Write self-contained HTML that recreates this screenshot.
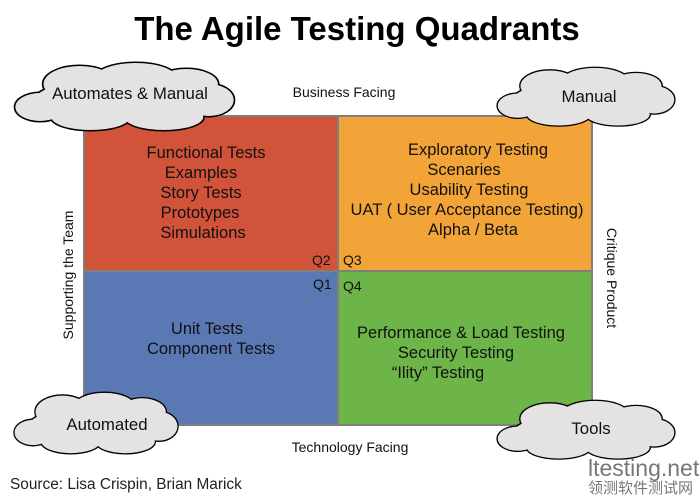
<!DOCTYPE html>
<html><head><meta charset="utf-8"><style>
body{margin:0;width:700px;height:500px;background:#fff;overflow:hidden;font-family:"Liberation Sans",sans-serif}
svg{position:absolute;left:0;top:0}
</style></head><body>
<svg width="700" height="500" viewBox="0 0 700 500" font-family="Liberation Sans, sans-serif">
<defs>
<g id="cs">
<ellipse cx="100" cy="38" rx="80" ry="22"/><ellipse cx="25" cy="45" rx="22" ry="14"/><ellipse cx="175" cy="38" rx="22" ry="16"/>
<ellipse cx="60" cy="22" rx="32" ry="18"/><ellipse cx="110" cy="16" rx="36" ry="15"/><ellipse cx="155" cy="22" rx="28" ry="15"/>
<ellipse cx="70" cy="55" rx="35" ry="13"/><ellipse cx="135" cy="55" rx="35" ry="13"/>
</g>
<g id="cloud">
<use href="#cs" fill="#000" stroke="#000" stroke-width="3" vector-effect="non-scaling-stroke"/>
<use href="#cs" fill="#e4e2e2"/>
</g>
</defs>
<text x="357" y="40" font-size="33" font-weight="bold" text-anchor="middle">The Agile Testing Quadrants</text>
<rect x="83" y="115" width="510" height="311" fill="#7f7f7f"/>
<rect x="85" y="117" width="252" height="153" fill="#d0533a"/>
<rect x="339" y="117" width="252" height="153" fill="#f2a438"/>
<rect x="85" y="272" width="252" height="152" fill="#5a78b4"/>
<rect x="339" y="272" width="252" height="152" fill="#6db548"/>
<g font-size="16.5" text-anchor="middle" fill="#111">
<text x="206" y="158">Functional Tests</text><text x="201" y="178">Examples</text><text x="201" y="198">Story Tests</text><text x="200" y="218">Prototypes</text><text x="203" y="238">Simulations</text>
<text x="478" y="155">Exploratory Testing</text><text x="464" y="175">Scenaries</text><text x="469" y="195">Usability Testing</text><text x="467" y="215">UAT ( User Acceptance Testing)</text><text x="473" y="235">Alpha / Beta</text>
<text x="207" y="334">Unit Tests</text><text x="211" y="354">Component Tests</text>
<text x="461" y="338">Performance &amp; Load Testing</text><text x="456" y="358">Security Testing</text><text x="438" y="378">“Ility” Testing</text>
</g>
<g font-size="14" fill="#111">
<text x="312" y="265">Q2</text><text x="343" y="265">Q3</text><text x="313" y="289">Q1</text><text x="343" y="291">Q4</text>
<text x="344" y="97" text-anchor="middle">Business Facing</text>
<text x="350" y="452" text-anchor="middle">Technology Facing</text>
<text transform="translate(73,275) rotate(-90)" text-anchor="middle">Supporting the Team</text>
<text transform="translate(607,278) rotate(90)" text-anchor="middle">Critique Product</text>
</g>
<use href="#cloud" transform="translate(12,62) scale(1.125,1.0)"/>
<use href="#cloud" transform="translate(495,67) scale(0.91,0.86)"/>
<use href="#cloud" transform="translate(12,392) scale(0.84,0.9)"/>
<use href="#cloud" transform="translate(495,400) scale(0.91,0.86)"/>
<g font-size="16.8" text-anchor="middle" fill="#111">
<text x="130" y="99">Automates &amp; Manual</text>
<text x="589" y="102">Manual</text>
<text x="107" y="430">Automated</text>
<text x="591" y="434">Tools</text>
</g>
<text x="10" y="489" font-size="15.4" fill="#222">Source: Lisa Crispin, Brian Marick</text>
<text x="588" y="476" font-size="23" fill="#777">ltesting.net</text>
<text x="588" y="493" font-size="15" fill="#777" font-family="Noto Sans CJK SC, sans-serif">领测软件测试网</text>
</svg>
</body></html>
